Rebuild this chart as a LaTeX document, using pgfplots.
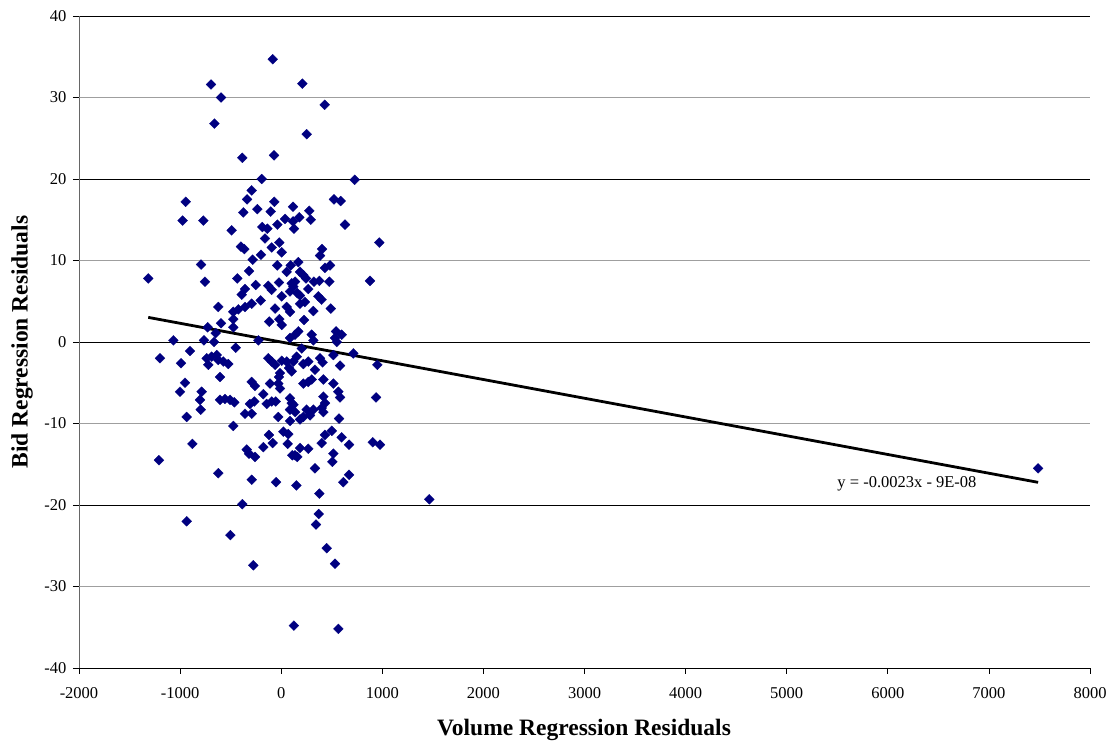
\documentclass[border=0pt]{standalone}
\usepackage{fontspec}
\setmainfont{Liberation Serif}
\usepackage{pgfplots}
\pgfplotsset{compat=1.18}
\definecolor{dotnavy}{HTML}{000080}

\pgfplotstableread{
x y
-84 34.7
-694 31.6
209 31.7
-595 30.0
430 29.1
-661 26.8
252 25.5
-385 22.6
-71 22.9
-193 20.0
727 19.9
-945 17.2
-292 18.6
-338 17.5
-68 17.2
-975 14.9
-770 14.9
-375 15.9
-236 16.3
-104 16.0
117 16.6
38 15.1
117 14.8
-187 14.1
-137 13.9
-38 14.4
-490 13.7
-160 12.7
-19 12.2
-398 11.7
-365 11.4
-94 11.6
5 11.0
-200 10.7
-282 10.1
-793 9.5
-39 9.4
94 9.4
-318 8.7
54 8.6
-1315 7.8
-754 7.4
-434 7.8
-252 7.0
-128 6.9
-22 7.3
104 7.2
-94 6.4
-358 6.5
-391 5.8
5 5.6
87 6.2
-203 5.1
-292 4.7
-358 4.3
-424 4.0
-474 3.7
-622 4.3
-61 4.1
54 4.3
-474 2.8
-595 2.3
-118 2.5
-19 2.8
5 2.1
-474 1.8
-727 1.8
-648 1.1
-1067 0.2
-764 0.2
-665 0.0
-226 0.2
87 0.5
522 17.5
588 17.3
278 16.1
179 15.3
292 15.0
127 13.9
631 14.4
970 12.2
404 11.4
384 10.6
169 9.8
433 9.1
483 9.4
186 8.6
219 8.2
245 7.8
137 7.4
324 7.4
377 7.5
476 7.4
878 7.5
120 6.8
268 6.5
159 6.0
186 5.7
367 5.6
400 5.2
235 4.9
186 4.7
490 4.1
318 3.8
226 2.7
87 3.7
169 1.3
137 0.9
302 0.9
318 0.2
542 1.3
598 0.9
532 0.5
-1199 -2.0
-991 -2.6
-902 -1.1
-450 -0.7
-737 -2.0
-721 -2.8
-638 -1.6
-622 -2.2
-573 -2.4
-523 -2.7
-688 -1.8
-605 -4.3
-952 -5.0
-1001 -6.1
-787 -6.1
-803 -7.1
-796 -8.3
-935 -9.2
-605 -7.1
-556 -7.0
-506 -7.1
-464 -7.4
-292 -4.9
-259 -5.4
-358 -8.8
-292 -8.8
-309 -7.6
-266 -7.3
-177 -6.4
-144 -7.6
-94 -7.3
-54 -7.3
-111 -5.1
-29 -5.1
-12 -5.7
-128 -2.0
-94 -2.4
-61 -2.8
5 -2.3
54 -2.4
77 -3.2
104 -3.6
-12 -3.8
-22 -4.3
87 -6.9
104 -7.5
87 -8.3
-29 -9.2
87 -9.7
-474 -10.3
-879 -12.5
-1209 -14.5
-622 -16.1
-341 -13.2
-318 -13.7
-259 -14.1
-177 -12.9
-121 -11.4
-84 -12.4
21 -11.0
70 -11.3
64 -12.5
110 -13.9
-292 -16.9
-51 -17.2
150 -17.6
713 -1.4
951 -2.8
153 -1.8
120 -2.4
219 -2.7
268 -2.4
334 -3.4
384 -2.0
410 -2.5
582 -2.9
516 -1.6
549 0.0
203 -0.8
417 -4.6
219 -5.1
268 -4.9
302 -4.6
516 -5.1
565 -6.1
582 -6.8
938 -6.8
120 -7.7
137 -8.6
417 -6.7
433 -7.5
400 -8.1
417 -8.6
252 -8.3
318 -8.3
285 -9.0
219 -9.2
186 -9.5
572 -9.4
500 -10.9
433 -11.4
400 -12.4
598 -11.7
671 -12.6
905 -12.3
977 -12.6
186 -13.0
268 -13.1
137 -13.9
159 -14.1
516 -13.7
506 -14.7
334 -15.5
671 -16.3
614 -17.2
377 -18.6
1465 -19.3
-385 -19.9
-935 -22.0
-503 -23.7
-276 -27.4
125 -34.8
371 -21.1
344 -22.4
450 -25.3
532 -27.2
565 -35.2
7486 -15.5
}\residuals

\begin{document}
\begin{tikzpicture}
\begin{axis}[
  scale only axis,
  width=1011pt,
  height=652pt,
  xmin=-2000, xmax=8000,
  ymin=-40, ymax=40,
  xtick={-2000,-1000,...,8000},
  ytick={-40,-20,...,40},
  extra y ticks={-30,-10,10,30},
  extra y tick style={grid style={gray!75, line width=0.8pt}},
  ymajorgrids=true,
  grid style={black, line width=0.8pt},
  axis x line*=bottom,
  axis y line*=left,
  x axis line style={black, line width=0.8pt},
  y axis line style={gray!80!black, line width=0.8pt},
  tick align=outside,
  major tick length=6pt,
  tick style={black, line width=0.8pt},
  /pgf/number format/assume math mode=true,
  /pgf/number format/1000 sep={},
  tick label style={font=\fontsize{16.5}{18}\selectfont},
  xticklabel style={yshift=-10pt},
  yticklabel style={xshift=-3pt},
  xlabel={\textbf{Volume Regression Residuals}},
  ylabel={\textbf{Bid Regression Residuals}},
  label style={font=\fontsize{23.5}{26}\selectfont},
  xlabel style={at={(axis description cs:0.4995,-0.095)}, anchor=center},
  ylabel style={at={(axis description cs:-0.0564,0.5)}, anchor=center, rotate=0},
  clip=false,
]
\addplot[only marks, mark=square*, mark size=3.5pt,
  mark options={rotate=45, fill=dotnavy, draw=dotnavy, line width=0.3pt}]
  table[x=x, y=y] {\residuals};
\addplot[black, line width=2.8pt, no marks] coordinates {(-1315,3.02) (7486,-17.22)};
\node[anchor=base west, inner sep=0pt, font=\fontsize{16.5}{18}\selectfont]
  at (axis cs:5500,-17.8) {y = -0.0023x - 9E-08};
\end{axis}
\pgfresetboundingbox
\path (-79pt,-75pt) rectangle (1031pt,668pt);
\end{tikzpicture}
\end{document}
